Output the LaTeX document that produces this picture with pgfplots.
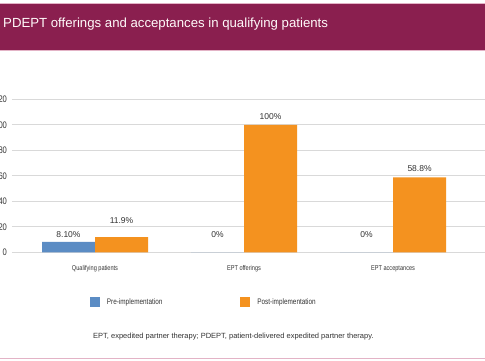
\documentclass[border=0pt]{standalone}
\usepackage{pgfplots}
\pgfplotsset{compat=1.18}
\usepackage{fontspec}
\setmainfont{Liberation Sans}
\newfontfamily\narrowfont[FakeStretch=0.8]{Liberation Sans}
\definecolor{band}{HTML}{8A1F4F}
\definecolor{bandline}{HTML}{E3B3C6}
\definecolor{preblue}{HTML}{5B8CC4}
\definecolor{postorange}{HTML}{F4921F}
\definecolor{gridgray}{HTML}{D9D9D9}
\definecolor{txt}{HTML}{333333}
\begin{document}
\begin{tikzpicture}[x=1pt,y=1pt]
\path[use as bounding box, clip] (0,0) rectangle (485,-360);
\fill[white] (0,0) rectangle (485,-360);
\fill[band] (0,-3.5) rectangle (485,-49.5);
\draw[bandline, line width=1pt] (0,-3) -- (485,-3);
\draw[bandline, line width=1pt] (0,-50) -- (485,-50);
\draw[bandline, line width=1pt] (0,-358) -- (485,-358);
\node[anchor=base west, inner sep=0pt, text=white!92!pink, font=\fontsize{13.2}{15}\selectfont] at (3,-27) {PDEPT offerings and acceptances in qualifying patients};
\begin{axis}[
  at={(12pt,-252.3pt)}, anchor=south west,
  scale only axis, width=477.9pt, height=153pt,
  xmin=-0.557, xmax=2.65, ymin=0, ymax=120,
  clip=false,
  axis line style={draw=none},
  major tick length=0pt,
  ymajorgrids, grid style={gridgray, line width=0.8pt},
  ytick={0,20,...,120},
  /pgf/number format/assume math mode=true,
  yticklabel style={font=\narrowfont\fontsize{9.5}{11}\selectfont, text=txt, xshift=-1.5pt},
  xtick={0,1,2},
  xticklabels={Qualifying patients, EPT offerings, EPT acceptances},
  xticklabel style={font=\narrowfont\fontsize{7}{8}\selectfont, text=txt, yshift=-9.5pt},
  legend columns=2,
  legend image code/.code={\fill[#1] (0pt,-5pt) rectangle (10pt,5pt);},
  legend style={at={(0.163,-0.325)}, anchor=west, draw=none, fill=none,
    inner sep=0pt, outer sep=0pt, font=\narrowfont\fontsize{8}{9}\selectfont, text=txt,
    /tikz/every odd column/.append style={column sep=5pt},
    /tikz/every even column/.append style={column sep=76pt}},
  legend cell align=left,
]
\addplot[ybar, bar width=53pt, bar shift=-26.5pt, fill=preblue, draw=none] coordinates {(0,8.1) (1,0) (2,0)};
\addlegendentry{Pre-implementation}
\addplot[ybar, bar width=53pt, bar shift=26.5pt, fill=postorange, draw=none] coordinates {(0,11.9) (1,100) (2,58.8)};
\addlegendentry{Post-implementation}
\addplot[draw=none, mark=none, forget plot, nodes near coords, point meta=explicit symbolic,
  every node near coord/.style={anchor=center, inner sep=0pt, font=\fontsize{8.5}{10}\selectfont, text=txt}]
  coordinates {(-0.178,13.6)[8.10\%] (0.178,24.5)[11.9\%] (0.822,13.6)[0\%] (1.178,106.1)[100\%] (1.822,13.6)[0\%] (2.178,65.9)[58.8\%]};
\end{axis}
\node[anchor=west, inner sep=0pt, font=\fontsize{7.5}{9}\selectfont, text=txt] at (93,-337) {EPT, expedited partner therapy; PDEPT, patient-delivered expedited partner therapy.};
\end{tikzpicture}
\end{document}
